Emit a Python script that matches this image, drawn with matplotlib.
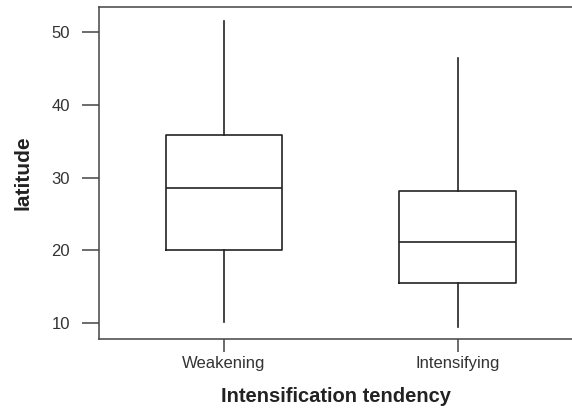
import matplotlib
matplotlib.use("Agg")
from matplotlib import pyplot as plt

plt.rcParams['font.family'] = ['Liberation Sans', 'DejaVu Sans']

categories = ["Weakening", "Intensifying"]
whisker_low = [10.1, 9.4]
q1 = [20.0, 15.5]
median = [28.6, 21.1]
q3 = [35.9, 28.2]
whisker_high = [51.5, 46.4]

stats = []
for i in range(len(categories)):
    stats.append({"label": categories[i], "whislo": whisker_low[i], "q1": q1[i],
                  "med": median[i], "q3": q3[i], "whishi": whisker_high[i]})

fig = plt.figure(figsize=(5.72, 4.13), dpi=100)
ax = fig.add_axes([0.1736, 0.179, 0.8264, 0.804])

lc = "#222222"
ax.bxp(stats, positions=[1, 2], widths=0.5, showfliers=False, showcaps=False,
       boxprops=dict(color=lc, linewidth=1.2),
       whiskerprops=dict(color=lc, linewidth=1.2),
       medianprops=dict(color=lc, linewidth=1.2))

ax.set_xlim(0.4655, 2.49)
ax.set_ylim(7.75, 53.48)
ax.set_yticks([10, 20, 30, 40, 50])

ax.spines['right'].set_visible(False)
for s in ['left', 'top', 'bottom']:
    ax.spines[s].set_color("#444444")
    ax.spines[s].set_linewidth(1.1)

ax.tick_params(axis='y', length=12, width=1.1, pad=9, labelsize=12, colors="#444444", labelcolor="#333333")
ax.tick_params(axis='x', length=9, width=1.1, pad=3, labelsize=12, colors="#444444", labelcolor="#333333")

ax.set_xlabel("Intensification tendency", fontsize=14.5, fontweight='bold', color="#222222", labelpad=12)
ax.set_ylabel("latitude", fontsize=15, fontweight='bold', color="#222222", labelpad=14)

fig.savefig("out.png", dpi=100)
